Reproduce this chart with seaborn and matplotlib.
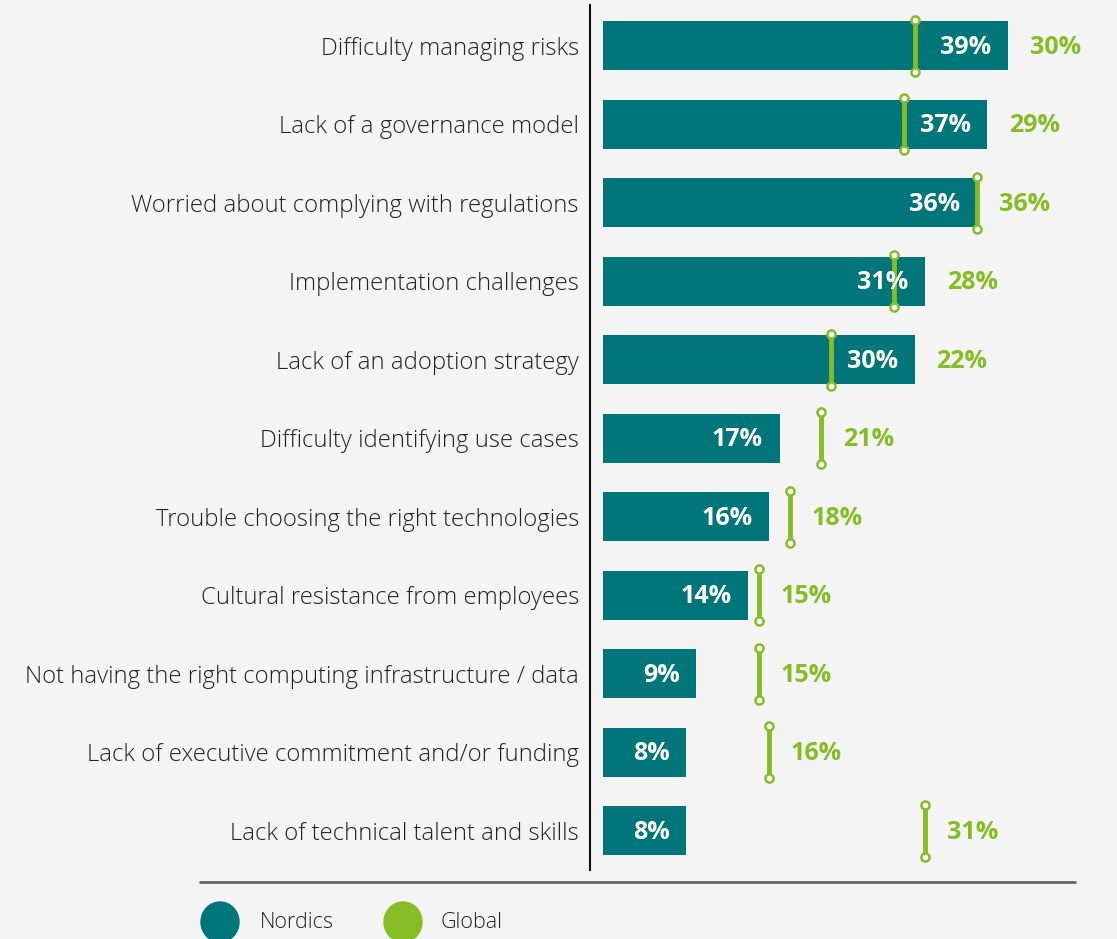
import matplotlib
matplotlib.use("Agg")
import matplotlib.pyplot as plt
import seaborn as sns
import pandas as pd
from matplotlib.patches import Ellipse
from matplotlib.lines import Line2D

categories = [
    "Difficulty managing risks",
    "Lack of a governance model",
    "Worried about complying with regulations",
    "Implementation challenges",
    "Lack of an adoption strategy",
    "Difficulty identifying use cases",
    "Trouble choosing the right technologies",
    "Cultural resistance from employees",
    "Not having the right computing infrastructure / data",
    "Lack of executive commitment and/or funding",
    "Lack of technical talent and skills",
]
nordics = [39, 37, 36, 31, 30, 17, 16, 14, 9, 8, 8]
global_vals = [30, 29, 36, 28, 22, 21, 18, 15, 15, 16, 31]

TEAL = "#00767a"
GREEN = "#86bc25"
BG = "#f4f4f4"
TEXT = "#222222"

sns.set_theme(style="white")
plt.rcParams["font.family"] = ["Open Sans", "DejaVu Sans"]

df = pd.DataFrame({"category": categories, "Nordics": nordics, "Global": global_vals})

fig = plt.figure(figsize=(11.17, 9.39), dpi=100, facecolor=BG)
ax = fig.add_axes([590 / 1117, 1 - 870 / 939, 1 - 590 / 1117, 865 / 939])
ax.set_facecolor(BG)

sns.barplot(data=df, y="category", x="Nordics", orient="h", color=TEAL,
            width=0.62, saturation=1, ax=ax, edgecolor="none")

ax.set_xlim(-1.25, 49.5)
ax.set_ylim(10.5, -0.52)

# global markers: vertical stick with hollow end caps
for i, g in enumerate(global_vals):
    ax.plot([g, g], [i - 0.33, i + 0.33], color=GREEN, lw=3.5, solid_capstyle="butt", zorder=3)
    ax.scatter([g, g], [i - 0.33, i + 0.33], s=34, facecolor="white", edgecolor=GREEN,
               linewidth=1.8, zorder=4)

# value labels
for i, (n, g) in enumerate(zip(nordics, global_vals)):
    ax.text(n - 1.6, i + 0.02, f"{n}%", ha="right", va="center", color="white",
            fontsize=18, fontweight="bold", zorder=5)
    ax.text(max(n, g) + 2.1, i + 0.02, f"{g}%", ha="left", va="center", color=GREEN,
            fontsize=18, fontweight="bold", zorder=5)

ax.set_xlabel("")
ax.set_ylabel("")
ax.set_xticks([])
ax.tick_params(axis="y", length=0, pad=8, labelsize=17.2, labelcolor=TEXT)
for lab in ax.get_yticklabels():
    lab.set_fontweight("light")
for s in ["top", "right", "bottom"]:
    ax.spines[s].set_visible(False)
ax.spines["left"].set_color("#111111")
ax.spines["left"].set_linewidth(1.5)

# footer rule and legend drawn in pixel space
ov = fig.add_axes([0, 0, 1, 1], facecolor="none")
ov.set_xlim(0, 1117)
ov.set_ylim(939, 0)
ov.axis("off")
ov.add_line(Line2D([200, 1075], [882, 882], color="#666666", lw=2))
ov.add_patch(Ellipse((220, 922), 38, 40, color=TEAL))
ov.add_patch(Ellipse((403, 922), 38, 40, color=GREEN))
ov.text(260, 923, "Nordics", ha="left", va="center", fontsize=15.5, color=TEXT,
        fontweight="light")
ov.text(441, 923, "Global", ha="left", va="center", fontsize=15.5, color=TEXT,
        fontweight="light")

fig.savefig("out.png", dpi=100, facecolor=BG)
